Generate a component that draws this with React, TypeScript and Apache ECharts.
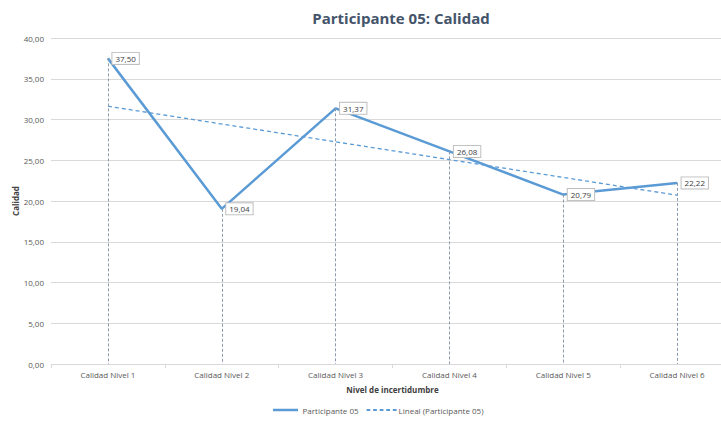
import React, { useEffect, useRef } from "react";
import * as echarts from "echarts";

const categories = ["Calidad Nivel 1", "Calidad Nivel 2", "Calidad Nivel 3", "Calidad Nivel 4", "Calidad Nivel 5", "Calidad Nivel 6"];
const participantValues = [37.5, 19.04, 31.37, 26.08, 20.79, 22.22];
const trendValues: (number | null)[] = [31.63, null, null, null, null, 20.71];
const yTicks = { min: 0, max: 40, interval: 5 };

const FONT = "'Open Sans', 'Noto Sans', sans-serif";
const BLUE = "#5b9bd5";

const solidIcon = "path://M0,0H30V3H0Z";
const dashedIcon = "path://M0,0H4V2H0Z M7,0H11V2H7Z M14,0H18V2H14Z M21,0H25V2H21Z M28,0H32V2H28Z";

export default function App() {
  const ref = useRef<HTMLDivElement>(null);
  useEffect(() => {
    if (!ref.current) return;
    const chart = echarts.init(ref.current, undefined, { renderer: "svg" });
    const fmt = (v: number) => v.toFixed(2).replace(".", ",");
    chart.setOption({
      animation: false,
      backgroundColor: "#ffffff",
      textStyle: { fontFamily: FONT },
      title: {
        text: "Participante 05: Calidad",
        left: 396,
        textAlign: "center",
        top: 5,
        textStyle: { fontFamily: FONT, fontSize: 15, fontWeight: "bold", color: "#44546a" },
      },
      grid: { left: 51, right: -13, top: 38, bottom: 58, containLabel: false, outerBoundsMode: "none" },
      legend: {
        left: 268,
        top: 401,
        itemWidth: 30,
        itemHeight: 2.5,
        itemGap: 8,
        textStyle: { fontFamily: FONT, fontSize: 8, color: "#595959", padding: [0, 0, 0, -3] },
        data: [
          { name: "Participante 05", icon: solidIcon },
          { name: "Lineal (Participante 05)", icon: dashedIcon },
        ],
      },
      xAxis: {
        type: "category",
        data: categories,
        boundaryGap: true,
        name: "Nivel de incertidumbre",
        nameLocation: "middle",
        nameGap: 21,
        nameMoveOverlap: false,
        nameTextStyle: { fontFamily: FONT, fontSize: 8, fontWeight: "bold", color: "#404040" },
        axisLine: { lineStyle: { color: "#d9d9d9" } },
        axisTick: { show: true, alignWithLabel: false, length: 4, lineStyle: { color: "#d9d9d9" } },
        axisLabel: { fontFamily: FONT, fontSize: 8, color: "#595959", margin: 6 },
      },
      yAxis: {
        type: "value",
        min: yTicks.min,
        max: yTicks.max,
        interval: yTicks.interval,
        name: "Calidad",
        nameLocation: "middle",
        nameGap: 32,
        nameRotate: 90,
        nameMoveOverlap: false,
        nameTextStyle: { fontFamily: FONT, fontSize: 8, fontWeight: "bold", color: "#404040" },
        axisLine: { show: false },
        axisTick: { show: false },
        splitLine: { lineStyle: { color: "#d9d9d9", width: 1 } },
        axisLabel: { fontFamily: FONT, fontSize: 8, color: "#595959", margin: 7, formatter: fmt },
      },
      series: [
        {
          name: "Participante 05",
          type: "line",
          data: participantValues,
          symbol: "circle",
          symbolSize: 1,
          showSymbol: true,
          lineStyle: { color: BLUE, width: 2.5 },
          itemStyle: { color: BLUE },
          z: 3,
          label: {
            show: true,
            position: "right",
            distance: 4,
            offset: [0, 0],
            formatter: (p: any) => fmt(p.value),
            fontFamily: FONT,
            fontSize: 8,
            color: "#404040",
            backgroundColor: "#ffffff",
            borderColor: "#bfbfbf",
            borderWidth: 1,
            padding: [2, 3, 1, 3],
          },
          markLine: {
            silent: true,
            symbol: "none",
            label: { show: false },
            lineStyle: { color: "#8c9aae", type: [3, 2], width: 1 },
            data: participantValues.map((v, i) => [
              { coord: [i, v] },
              { coord: [i, 0] },
            ]),
          },
        },
        {
          name: "Lineal (Participante 05)",
          type: "line",
          data: trendValues,
          connectNulls: true,
          symbol: "none",
          showSymbol: false,
          lineStyle: { color: BLUE, width: 1.3, type: [4, 3] },
          itemStyle: { color: BLUE },
          z: 2,
        },
      ],
    });
    return () => chart.dispose();
  }, []);
  return <div ref={ref} style={{ position: "fixed", left: 0, top: 0, width: 721, height: 422 }} />;
}
